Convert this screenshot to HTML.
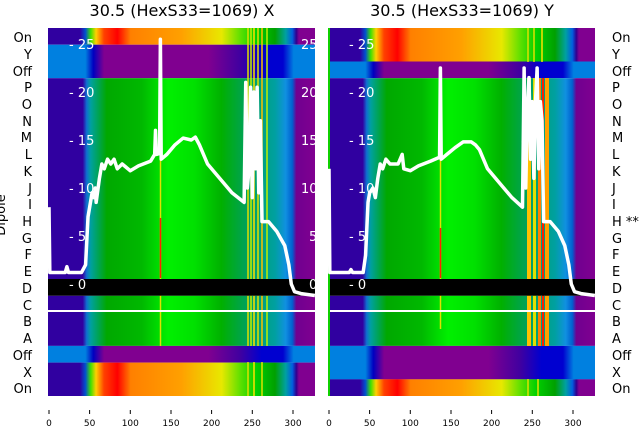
<!DOCTYPE html>
<html><head><meta charset="utf-8"><style>
html,body{margin:0;padding:0;background:#fff;}
svg{display:block;font-family:"DejaVu Sans","Liberation Sans",sans-serif;}
</style></head><body>
<svg width="640" height="440" viewBox="0 0 640 440" xmlns="http://www.w3.org/2000/svg">
<defs>
<linearGradient id="gO" x1="0" x2="1" y1="0" y2="0">
<stop offset="0" stop-color="#3000a0"/><stop offset="0.12" stop-color="#3000a0"/><stop offset="0.14" stop-color="#0050d0"/><stop offset="0.16" stop-color="#40e000"/><stop offset="0.18" stop-color="#ffd000"/><stop offset="0.21" stop-color="#ff4000"/><stop offset="0.26" stop-color="#ff0000"/><stop offset="0.31" stop-color="#ff8000"/><stop offset="0.5" stop-color="#ffa000"/><stop offset="0.65" stop-color="#e8e800"/><stop offset="0.72" stop-color="#60e000"/><stop offset="0.78" stop-color="#00d000"/><stop offset="0.85" stop-color="#00a000"/><stop offset="0.89" stop-color="#00a0a0"/><stop offset="0.915" stop-color="#0060e0"/><stop offset="0.93" stop-color="#300090"/><stop offset="0.94" stop-color="#800090"/><stop offset="1" stop-color="#800090"/>
</linearGradient>
<linearGradient id="gG" x1="0" x2="1" y1="0" y2="0">
<stop offset="0" stop-color="#3000a0"/><stop offset="0.13" stop-color="#3000a0"/><stop offset="0.145" stop-color="#1070d0"/><stop offset="0.16" stop-color="#00a0a0"/><stop offset="0.22" stop-color="#00a800"/><stop offset="0.35" stop-color="#00b800"/><stop offset="0.45" stop-color="#00f000"/><stop offset="0.55" stop-color="#00e000"/><stop offset="0.65" stop-color="#00b000"/><stop offset="0.75" stop-color="#00a060"/><stop offset="0.85" stop-color="#00a0a0"/><stop offset="0.89" stop-color="#1090e0"/><stop offset="0.915" stop-color="#0060d0"/><stop offset="0.93" stop-color="#700090"/><stop offset="1" stop-color="#800090"/>
</linearGradient>
<linearGradient id="gB" x1="0" x2="1" y1="0" y2="0">
<stop offset="0" stop-color="#0080e0"/><stop offset="0.14" stop-color="#0080e0"/><stop offset="0.17" stop-color="#0000c0"/><stop offset="0.21" stop-color="#800090"/><stop offset="0.6" stop-color="#800090"/><stop offset="0.72" stop-color="#4000a0"/><stop offset="0.8" stop-color="#0000d0"/><stop offset="0.88" stop-color="#0000d0"/><stop offset="0.92" stop-color="#0080e0"/><stop offset="1" stop-color="#0080e0"/>
</linearGradient>
</defs>

<g transform="translate(48,28)">
<rect x="0" y="0" width="267" height="16.7" fill="url(#gO)"/>
<rect x="0" y="16.7" width="267" height="33.5" fill="url(#gB)"/>
<rect x="0" y="50.2" width="267" height="200.8" fill="url(#gG)"/>
<rect x="0" y="267.7" width="267" height="50.2" fill="url(#gG)"/>
<rect x="0" y="317.9" width="267" height="16.7" fill="url(#gB)"/>
<rect x="0" y="334.6" width="267" height="33.4" fill="url(#gO)"/>
<g stroke-width="1.5">
<line x1="112.5" y1="50" x2="112.5" y2="318" stroke="#e0e000"/>
<line x1="112.5" y1="190" x2="112.5" y2="250" stroke="#ff2000"/>
<line x1="200" y1="0" x2="200" y2="318" stroke="#e0e000"/>
<line x1="203" y1="0" x2="203" y2="318" stroke="#c0f000"/>
<line x1="206" y1="0" x2="206" y2="318" stroke="#ffe000"/>
<line x1="210" y1="0" x2="210" y2="318" stroke="#e0e000"/>
<line x1="214" y1="0" x2="214" y2="318" stroke="#ffc000"/>
<line x1="219" y1="0" x2="219" y2="318" stroke="#c0f000"/>
<line x1="200" y1="334" x2="200" y2="368" stroke="#e0e000"/>
<line x1="206" y1="334" x2="206" y2="368" stroke="#ffe000"/>
<line x1="214" y1="334" x2="214" y2="368" stroke="#e0e000"/>
</g>
<rect x="0" y="251" width="267" height="16.7" fill="#000"/>
<rect x="0" y="282" width="267" height="2" fill="#fff"/>
</g>

<g transform="translate(328,28)">
<rect x="0" y="0" width="267" height="33.5" fill="url(#gO)"/>
<rect x="0" y="33.5" width="267" height="16.7" fill="url(#gB)"/>
<rect x="0" y="50.2" width="267" height="200.8" fill="url(#gG)"/>
<rect x="0" y="267.7" width="267" height="50.2" fill="url(#gG)"/>
<rect x="0" y="317.9" width="267" height="33.5" fill="url(#gB)"/>
<rect x="0" y="351.3" width="267" height="16.7" fill="url(#gO)"/>
<g>
<line x1="112.5" y1="50" x2="112.5" y2="301" stroke="#e0e000" stroke-width="1.5"/>
<line x1="112.5" y1="200" x2="112.5" y2="250" stroke="#ff2000" stroke-width="1.5"/>
<rect x="199" y="50" width="4" height="268" fill="#ffc000"/>
<rect x="205" y="50" width="3" height="268" fill="#e0e000"/>
<rect x="210" y="50" width="3" height="268" fill="#ff8000"/>
<rect x="214" y="50" width="2" height="268" fill="#ff2000"/>
<rect x="217" y="50" width="4" height="268" fill="#ffa000"/>
<line x1="200" y1="0" x2="200" y2="34" stroke="#e0e000" stroke-width="1.5"/>
<line x1="206" y1="0" x2="206" y2="34" stroke="#e0e000" stroke-width="1.5"/>
<line x1="214" y1="0" x2="214" y2="34" stroke="#ffe000" stroke-width="1.5"/>
<line x1="200" y1="351" x2="200" y2="368" stroke="#e0e000" stroke-width="1.5"/>
<line x1="210" y1="351" x2="210" y2="368" stroke="#e0e000" stroke-width="1.5"/>
</g>
<rect x="0" y="251" width="267" height="16.7" fill="#000"/>
<rect x="0" y="282" width="267" height="2" fill="#fff"/>
<rect x="0" y="0" width="2" height="368" fill="#10d000"/>
</g>
<rect x="315" y="28" width="13" height="368" fill="#fff"/>

<g fill="none" stroke="#fff" stroke-width="3.5" stroke-linejoin="round">
<path vector-effect="non-scaling-stroke" transform="matrix(0.813,0,0,-9.6,49,284)" d="M0,8 L1,1.2 L20,1.2 L22,1.8 L24,1.2 L40,1.2 L45,2 L48,7 L50,8 L53,9.5 L55,9 L57,10 L58,8.5 L62,11 L65,12.5 L68,12 L72,13 L76,12.5 L80,13 L84,12 L90,12.5 L100,11.8 L110,12.3 L125,12.8 L130,13.5 L131,16 L132,13.5 L136,13.6 L137,25.5 L138,13 L145,13.5 L155,14.5 L165,15.2 L175,15 L180,15.3 L185,14.5 L195,12.5 L210,11 L225,9.5 L240,8.5 L242,21 L244,10 L246,12 L248,20.5 L250,9 L252,20 L254,12 L256,20.5 L258,9.5 L260,17 L262,6.5 L270,6.5 L280,5.5 L290,4 L295,2 L298,0 L302,-0.8 L310,-1 L327,-1.2"/>
<path vector-effect="non-scaling-stroke" transform="matrix(0.813,0,0,-9.6,329,284)" d="M0,12 L1,1.2 L25,1.2 L27,1.5 L29,1.2 L42,1.2 L45,3 L48,8.5 L50,9.5 L54,10 L57,9 L60,11 L63,12.5 L66,12 L70,13 L75,12.5 L80,12.5 L85,12.5 L90,13.5 L92,12 L100,11.8 L110,12.3 L125,12.8 L136,13.2 L137,22.5 L138,13 L145,13.5 L155,14.2 L165,14.8 L175,14.8 L180,14.5 L185,14 L195,12 L210,10.5 L225,9 L238,8 L240,22.5 L242,10 L244,18 L246,21.5 L248,13 L250,19 L252,11 L254,19 L256,22.5 L258,12 L260,19 L262,17 L264,6.5 L272,6.5 L282,5.5 L290,4 L295,2 L298,0 L302,-0.8 L310,-1 L327,-1.2"/>
</g>

<g fill="#fff" font-size="13">
<text x="69" y="49">- 25</text><text x="69" y="97">- 20</text><text x="69" y="145">- 15</text><text x="69" y="193">- 10</text><text x="69" y="241">- 5</text><text x="69" y="289">- 0</text>
<text x="301" y="49">25</text><text x="301" y="97">20</text><text x="301" y="145">15</text><text x="301" y="193">10</text><text x="309" y="241">5</text><text x="309" y="289">0</text>
<text x="349" y="49">- 25</text><text x="349" y="97">- 20</text><text x="349" y="145">- 15</text><text x="349" y="193">- 10</text><text x="349" y="241">- 5</text><text x="349" y="289">- 0</text>
</g>

<g font-size="16" fill="#000" text-anchor="middle">
<text x="182" y="16">30.5 (HexS33=1069) X</text>
<text x="462" y="16">30.5 (HexS33=1069) Y</text>
</g>

<g font-size="13" fill="#000" text-anchor="end">
<text x="32" y="42">On</text><text x="32" y="59">Y</text><text x="32" y="76">Off</text><text x="32" y="92">P</text><text x="32" y="109">O</text><text x="32" y="126">N</text><text x="32" y="142">M</text><text x="32" y="159">L</text><text x="32" y="176">K</text><text x="32" y="193">J</text><text x="32" y="209">I</text><text x="32" y="226">H</text><text x="32" y="243">G</text><text x="32" y="259">F</text><text x="32" y="276">E</text><text x="32" y="293">D</text><text x="32" y="310">C</text><text x="32" y="326">B</text><text x="32" y="343">A</text><text x="32" y="360">Off</text><text x="32" y="377">X</text><text x="32" y="393">On</text>
</g>
<g font-size="13" fill="#000">
<text x="612" y="42">On</text><text x="612" y="59">Y</text><text x="612" y="76">Off</text><text x="612" y="92">P</text><text x="612" y="109">O</text><text x="612" y="126">N</text><text x="612" y="142">M</text><text x="612" y="159">L</text><text x="612" y="176">K</text><text x="612" y="193">J</text><text x="612" y="209">I</text><text x="612" y="226">H **</text><text x="612" y="243">G</text><text x="612" y="259">F</text><text x="612" y="276">E</text><text x="612" y="293">D</text><text x="612" y="310">C</text><text x="612" y="326">B</text><text x="612" y="343">A</text><text x="612" y="360">Off</text><text x="612" y="377">X</text><text x="612" y="393">On</text>
</g>
<text transform="translate(5,215) rotate(-90)" font-size="13" text-anchor="middle">Dipole</text>

<g stroke="#000" stroke-width="1">
<line x1="49" y1="410" x2="49" y2="414"/><line x1="89.6" y1="410" x2="89.6" y2="414"/><line x1="130.3" y1="410" x2="130.3" y2="414"/><line x1="171" y1="410" x2="171" y2="414"/><line x1="211.6" y1="410" x2="211.6" y2="414"/><line x1="252.3" y1="410" x2="252.3" y2="414"/><line x1="293" y1="410" x2="293" y2="414"/>
<line x1="329" y1="410" x2="329" y2="414"/><line x1="369.6" y1="410" x2="369.6" y2="414"/><line x1="410.3" y1="410" x2="410.3" y2="414"/><line x1="451" y1="410" x2="451" y2="414"/><line x1="491.6" y1="410" x2="491.6" y2="414"/><line x1="532.3" y1="410" x2="532.3" y2="414"/><line x1="573" y1="410" x2="573" y2="414"/>
</g>
<g font-size="9" fill="#000" text-anchor="middle">
<text x="49" y="426">0</text><text x="89.6" y="426">50</text><text x="130.3" y="426">100</text><text x="171" y="426">150</text><text x="211.6" y="426">200</text><text x="252.3" y="426">250</text><text x="293" y="426">300</text>
<text x="329" y="426">0</text><text x="369.6" y="426">50</text><text x="410.3" y="426">100</text><text x="451" y="426">150</text><text x="491.6" y="426">200</text><text x="532.3" y="426">250</text><text x="573" y="426">300</text>
</g>
</svg>
</body></html>
